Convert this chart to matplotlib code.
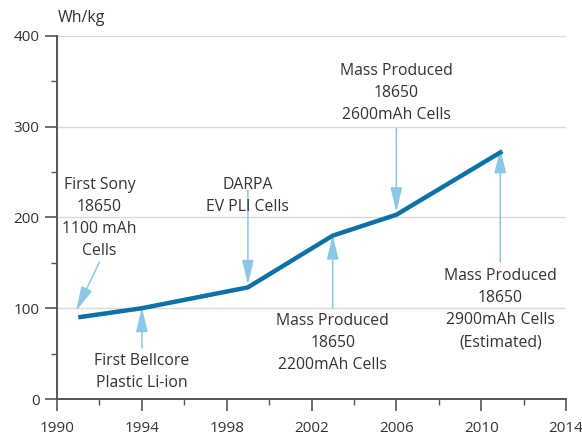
import matplotlib
matplotlib.use("Agg")
import matplotlib.pyplot as plt
from matplotlib.ticker import MultipleLocator

years = [1991, 1994, 1999, 2003, 2006, 2011]
whkg = [90, 100, 123, 180, 203, 273]

labels = [
    "First Sony\n18650\n1100 mAh\nCells",
    "First Bellcore\nPlastic Li-ion",
    "DARPA\nEV PLI Cells",
    "Mass Produced\n18650\n2200mAh Cells",
    "Mass Produced\n18650\n2600mAh Cells",
    "Mass Produced\n18650\n2900mAh Cells\n(Estimated)",
]
label_xy = [(1992.0, 199), (1994.0, 30), (1999.0, 224), (2003.0, 62), (2006.0, 337), (2010.9, 99)]
arrow_tail = [(1992.0, 151), (1994.0, 56), (1999.0, 230), (2003.0, 100), (2006.0, 298), (2010.9, 151)]
arrow_head = [(1990.9, 97), (1994.0, 101), (1999.0, 126), (2003.0, 181), (2006.0, 206), (2010.9, 276)]

xticks = [1990, 1994, 1998, 2002, 2006, 2010, 2014]
yticks = [0, 100, 200, 300, 400]

plt.rcParams['font.family'] = ['Open Sans', 'DejaVu Sans']
txt = '#333333'
fig = plt.figure(figsize=(5.82, 4.38), dpi=100)
ax = fig.add_axes([0.098, 0.089, 0.8745, 0.829])
ax.set_xlim(1990, 2014)
ax.set_ylim(0, 400)
ax.set_xticks(xticks)
ax.set_yticks(yticks)
ax.xaxis.set_minor_locator(MultipleLocator(2))
ax.yaxis.set_minor_locator(MultipleLocator(50))
for y in yticks[1:]:
    ax.axhline(y, color='#d9d9d9', lw=1, zorder=0)
for s in ['top', 'right']:
    ax.spines[s].set_visible(False)
for s in ['left', 'bottom']:
    ax.spines[s].set_color('#555555')
    ax.spines[s].set_linewidth(1.4)
ax.tick_params(which='major', length=8.5, width=1.2, color='#555555', labelsize=11, labelcolor=txt)
ax.tick_params(which='minor', length=4.5, width=1.0, color='#555555')
ax.tick_params(axis='x', which='major', pad=7)
ax.tick_params(axis='y', which='major', pad=4)

ax.plot(years, whkg, color='#0a72a6', lw=3.2, solid_capstyle='butt', zorder=3)

for lab, (lx, ly), t, h in zip(labels, label_xy, arrow_tail, arrow_head):
    ax.text(lx, ly, lab, ha='center', va='center', fontsize=11.3, color=txt, linespacing=1.5)
    ax.annotate('', xy=h, xytext=t,
                arrowprops=dict(arrowstyle='-|>,head_length=1.5,head_width=0.36', color='#8cc8e6', lw=1.1,
                                shrinkA=0, shrinkB=0, mutation_scale=10), zorder=2)

fig.text(0.1, 0.958, 'Wh/kg', ha='left', va='center', fontsize=11.5, color=txt)
fig.savefig('out.png', dpi=100)
